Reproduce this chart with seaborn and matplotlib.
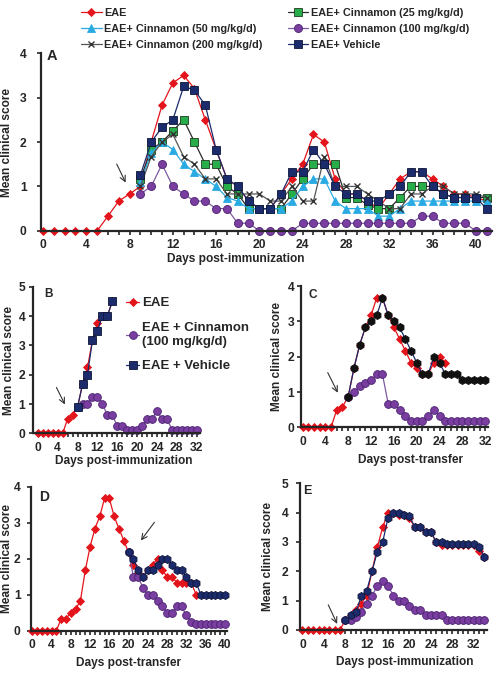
import matplotlib
matplotlib.use('Agg')
import matplotlib.pyplot as plt
import seaborn as sns
from matplotlib.ticker import MultipleLocator

# ---------------- data ----------------
# Panel A: active EAE, cinnamon doses
a_days = list(range(0, 42))
a_eae = [0, 0, 0, 0, 0, 0, 0.33, 0.67, 0.83, 1.0, 2.0, 2.83, 3.33, 3.5, 3.2, 2.5,
         1.83, 1.17, 1.0, 0.67, 0.5, 0.5, 0.83, 1.17, 1.5, 2.17, 2.0, 1.17, 0.83,
         0.83, 0.67, 0.5, 0.83, 1.17, 1.33, 1.33, 1.17, 1.0, 0.83, 0.83, 0.75, 0.67]
a_trt_days = list(range(9, 42))
a_c25 = [1.17, 1.83, 2.0, 2.25, 2.5, 2.0, 1.5, 1.5, 1.0, 0.83,
         0.5, 0.5, 0.5, 0.5, 0.83, 1.17, 1.5, 1.5, 1.5, 0.75,
         0.75, 0.58, 0.5, 0.5, 0.75, 1.0, 1.0, 1.0, 0.83, 0.75,
         0.75, 0.75, 0.75]
a_c50 = [1.1, 1.75, 2.0, 1.83, 1.5, 1.33, 1.17, 1.0, 0.75, 0.67,
         0.5, 0.5, 0.5, 0.5, 0.67, 1.0, 1.17, 1.17, 0.67, 0.5,
         0.5, 0.5, 0.33, 0.33, 0.5, 0.67, 0.67, 0.67, 0.67, 0.67,
         0.67, 0.67, 0.67]
a_c100 = [0.83, 1.0, 1.5, 1.0, 0.83, 0.67, 0.67, 0.5, 0.5, 0.17,
          0.17, 0, 0, 0, 0, 0.17, 0.17, 0.17, 0.17, 0.17,
          0.17, 0.17, 0.17, 0.17, 0.17, 0.17, 0.33, 0.33, 0.17, 0.17,
          0.17, 0, 0]
a_c200 = [1.0, 1.67, 2.0, 2.17, 1.67, 1.5, 1.17, 1.17, 0.83, 0.83,
          0.83, 0.83, 0.67, 0.67, 1.0, 0.67, 0.67, 1.67, 1.0, 1.0,
          1.0, 0.83, 0.67, 0.5, 0.5, 0.83, 0.83, 1.0, 1.0, 0.83,
          0.83, 0.83, 0.75]
a_veh = [1.25, 2.0, 2.33, 2.5, 3.25, 3.17, 2.83, 1.83, 1.17, 1.0,
         0.67, 0.5, 0.5, 0.83, 1.33, 1.33, 1.83, 1.5, 1.0, 0.83,
         0.83, 0.67, 0.67, 0.83, 1.0, 1.33, 1.33, 1.0, 0.83, 0.75,
         0.75, 0.75, 0.5]

# Panel B
b_eae_days = list(range(0, 16))
b_eae = [0, 0, 0, 0, 0, 0, 0.5, 0.63, 0.9, 1.67, 2.25, 3.17, 3.75, 4.0, 4.0, 4.5]
b_veh_days = list(range(8, 16))
b_veh = [0.9, 1.67, 2.0, 3.17, 3.5, 4.0, 4.0, 4.5]
b_cin_days = list(range(8, 33))
b_cin = [0.9, 1.0, 1.0, 1.25, 1.25, 1.0, 0.63, 0.63, 0.25, 0.25,
         0.13, 0.13, 0.13, 0.25, 0.5, 0.5, 0.75, 0.5, 0.5, 0.13,
         0.13, 0.13, 0.13, 0.13, 0.13]

# Panel C
c_eae_days = list(range(0, 26))
c_eae = [0, 0, 0, 0, 0, 0, 0.5, 0.58, 0.87, 1.67, 2.33, 2.83, 3.17, 3.67, 3.67,
         3.17, 2.83, 2.5, 2.17, 1.83, 1.67, 1.5, 1.5, 1.83, 2.0, 1.83]
c_trt_days = list(range(8, 33))
c_veh = [0.87, 1.67, 2.33, 2.83, 3.0, 3.17, 3.67, 3.17, 3.0, 2.83,
         2.5, 2.17, 1.83, 1.5, 1.5, 2.0, 1.83, 1.5, 1.5, 1.5,
         1.33, 1.33, 1.33, 1.33, 1.33]
c_cin = [0.87, 1.0, 1.17, 1.25, 1.33, 1.5, 1.5, 0.67, 0.67, 0.5,
         0.33, 0.17, 0.17, 0.17, 0.33, 0.5, 0.33, 0.17, 0.17, 0.17,
         0.17, 0.17, 0.17, 0.17, 0.17]

# Panel D
d_eae_days = list(range(0, 35))
d_eae = [0, 0, 0, 0, 0, 0, 0.33, 0.33, 0.5, 0.6, 0.83, 1.67, 2.33, 2.83, 3.17, 3.67,
         3.67, 3.17, 2.83, 2.5, 2.17, 1.83, 1.6, 1.5, 1.67, 1.83,
         2.0, 1.67, 1.5, 1.5, 1.33, 1.33, 1.33, 1.33, 1.0]
d_trt_days = list(range(20, 41))
d_veh = [2.17, 2.0, 1.67, 1.5, 1.67, 1.67, 1.83, 2.0, 2.0, 1.83,
         1.67, 1.67, 1.5, 1.33, 1.33, 1.0, 1.0, 1.0, 1.0, 1.0, 1.0]
d_cin = [2.17, 1.5, 1.5, 1.17, 1.0, 1.0, 0.83, 0.67, 0.5, 0.5,
         0.67, 0.67, 0.42, 0.25, 0.17, 0.17, 0.17, 0.17, 0.17, 0.17, 0.17]

# Panel E
e_eae_days = list(range(0, 35))
e_eae = [0, 0, 0, 0, 0, 0, 0, 0,
         0.33, 0.5, 0.67, 0.9, 1.17, 2.0, 2.83, 3.5, 4.0, 4.0,
         3.9, 3.9, 3.8, 3.5, 3.5, 3.33, 3.33, 3.0, 2.9, 2.9,
         2.9, 2.9, 2.9, 2.9, 2.9, 2.7, 2.5]
e_trt_days = list(range(8, 35))
e_veh = [0.33, 0.5, 0.6, 1.17, 1.33, 2.0, 2.67, 3.0, 3.83, 4.0,
         4.0, 3.92, 3.88, 3.5, 3.5, 3.33, 3.33, 3.0, 3.0, 2.92,
         2.92, 2.92, 2.92, 2.92, 2.92, 2.83, 2.5]
e_cin = [0.33, 0.33, 0.45, 0.62, 0.9, 1.17, 1.5, 1.67, 1.5, 1.17,
         1.0, 1.0, 0.83, 0.67, 0.67, 0.5, 0.5, 0.5, 0.5,
         0.33, 0.33, 0.33, 0.33, 0.33, 0.33, 0.33, 0.33]

# ---------------- style ----------------
RED = '#e3141b'
NAVY = '#1b2b6c'
GREEN = '#27ae4a'
CYAN = '#2aaae2'
PURPLE = '#7a3ea0'
PURPLE_EDGE = '#4a2270'
GREY = '#555555'

sns.set_style('ticks')
plt.rcParams['font.family'] = ['Liberation Sans', 'DejaVu Sans']
plt.rcParams['font.weight'] = 'bold'
plt.rcParams['axes.labelweight'] = 'bold'


def draw(ax, x, y, color, marker, ms, face=None, edge=None, lw=0.9, mew=0.6, label=None):
    sns.lineplot(x=x, y=y, ax=ax, color=color, marker=marker, markersize=ms,
                 markerfacecolor=face if face else color,
                 markeredgecolor=edge if edge else color,
                 markeredgewidth=mew, linewidth=lw, label=label,
                 legend=False, clip_on=False)


def style_axis(ax, xlim, ylim, ymax_tick, ypad, xlabel, xlab_pos, ylab_x, letter, letter_pos, letter_fs):
    ax.set_xlim(*xlim)
    ax.set_ylim(*ylim)
    ax.xaxis.set_major_locator(MultipleLocator(4))
    ax.xaxis.set_minor_locator(MultipleLocator(1))
    ax.set_yticks(range(0, ymax_tick + 1))
    ax.set_xticks([t for t in range(0, int(xlim[1]) + 1, 4)])
    for s in ['top', 'right']:
        ax.spines[s].set_visible(False)
    for s in ['left', 'bottom']:
        ax.spines[s].set_linewidth(1.6)
    ax.tick_params(axis='x', which='both', direction='out', length=3.2, width=1.2, labelsize=8.7, pad=3)
    ax.tick_params(axis='y', which='major', direction='out', length=3.2, width=1.2, labelsize=8.7, pad=ypad)
    for lab in ax.get_xticklabels() + ax.get_yticklabels():
        lab.set_fontweight('bold')
    ax.set_xlabel(xlabel, fontsize=8.6, fontweight='bold')
    ax.set_ylabel('Mean clinical score', fontsize=8.6, fontweight='bold')
    ax.xaxis.set_label_coords(*xlab_pos)
    ax.yaxis.set_label_coords(ylab_x, 0.5)
    ax.text(letter_pos[0], letter_pos[1], letter, transform=ax.transAxes,
            fontsize=letter_fs, fontweight='bold', ha='center', va='center')


def arrow(ax, start, end):
    ax.annotate('', xy=end, xytext=start,
                arrowprops=dict(arrowstyle='->', color='#333333', lw=0.8))


fig = plt.figure(figsize=(4.98, 6.73), dpi=100)

# ---------------- Panel A ----------------
axA = fig.add_axes([0.082, 0.657, 0.906, 0.264])
draw(axA, a_days, a_eae, RED, 'D', 4.4, label='EAE')
draw(axA, a_trt_days, a_c25, '#2a2a2a', 's', 5.4, face=GREEN, edge='#1d3a1d',
     label='EAE+ Cinnamon (25 mg/kg/d)')
draw(axA, a_trt_days, a_c50, CYAN, '^', 5.7, label='EAE+ Cinnamon (50 mg/kg/d)')
draw(axA, a_trt_days, a_c200, GREY, 'x', 5.0, edge='#333333', mew=1.0,
     label='EAE+ Cinnamon (200 mg/kg/d)')
draw(axA, a_trt_days, a_c100, '#7e5aa0', 'o', 5.8, face=PURPLE, edge=PURPLE_EDGE,
     label='EAE+ Cinnamon (100 mg/kg/d)')
draw(axA, a_trt_days, a_veh, NAVY, 's', 5.6, face=NAVY, edge='#0e163a',
     label='EAE+ Vehicle')
style_axis(axA, (-0.2, 41.5), (0, 4), 4, 7, 'Days post-immunization',
           (0.433, -0.125), -0.062, 'A', (0.024, 0.985), 10.5)
arrow(axA, (6.7, 1.56), (7.75, 1.03))

h, l = axA.get_legend_handles_labels()
order = ['EAE', 'EAE+ Cinnamon (50 mg/kg/d)', 'EAE+ Cinnamon (200 mg/kg/d)',
         'EAE+ Cinnamon (25 mg/kg/d)', 'EAE+ Cinnamon (100 mg/kg/d)', 'EAE+ Vehicle']
hd = dict(zip(l, h))
fig.legend([hd[k] for k in order], order, loc='upper left', bbox_to_anchor=(0.163, 0.988),
           ncol=2, frameon=False, fontsize=7.8, handlelength=1.9, handletextpad=0.25,
           columnspacing=2.3, labelspacing=0.55, borderpad=0, borderaxespad=0)

# ---------------- Panel B ----------------
axB = fig.add_axes([0.067, 0.356, 0.335, 0.218])
draw(axB, b_eae_days, b_eae, RED, 'D', 4.2, label='EAE')
draw(axB, b_cin_days, b_cin, '#7e5aa0', 'o', 5.6, face=PURPLE, edge=PURPLE_EDGE,
     label='EAE + Cinnamon\n(100 mg/kg/d)')
draw(axB, b_veh_days, b_veh, NAVY, 's', 5.4, face=NAVY, edge='#0e163a', label='EAE + Vehicle')
style_axis(axB, (-0.9, 32.7), (0, 5), 5, 2.5, 'Days post-immunization',
           (0.54, -0.15), -0.11, 'B', (0.09, 0.947), 8.5)
arrow(axB, (3.5, 1.65), (5.7, 0.9))
hb, lb = axB.get_legend_handles_labels()
axB.legend(hb, lb, loc='upper left', bbox_to_anchor=(0.555, 0.93), frameon=False,
           fontsize=9.5, handlelength=1.0, handletextpad=0.2, labelspacing=0.95,
           borderpad=0, borderaxespad=0)

# ---------------- Panel C ----------------
axC = fig.add_axes([0.604, 0.365, 0.375, 0.210])
draw(axC, c_eae_days, c_eae, RED, 'D', 4.4)
draw(axC, c_trt_days, c_cin, '#7e5aa0', 'o', 5.6, face=PURPLE, edge=PURPLE_EDGE)
draw(axC, c_trt_days, c_veh, NAVY, 'h', 5.8, face='#111111', edge='#111111')
style_axis(axC, (-0.3, 32.4), (0, 4), 4, 1.5, 'Days post-transfer',
           (0.588, -0.185), -0.097, 'C', (0.064, 0.938), 8.5)
arrow(axC, (4.2, 1.62), (6.4, 0.91))

# ---------------- Panel D ----------------
axD = fig.add_axes([0.0616, 0.063, 0.394, 0.214])
draw(axD, d_eae_days, d_eae, RED, 'D', 4.4)
draw(axD, d_trt_days, d_cin, '#7e5aa0', 'o', 5.6, face=PURPLE, edge=PURPLE_EDGE)
draw(axD, d_trt_days, d_veh, NAVY, 'h', 5.8, face=NAVY, edge='#0e163a')
style_axis(axD, (-0.33, 40.4), (0, 4), 4, 4, 'Days post-transfer',
           (0.5, -0.18), -0.09, 'D', (0.068, 0.928), 10)
arrow(axD, (25.7, 3.07), (22.2, 2.44))

# ---------------- Panel E ----------------
axE = fig.add_axes([0.602, 0.064, 0.375, 0.218])
draw(axE, e_eae_days, e_eae, RED, 'D', 4.4)
draw(axE, e_trt_days, e_cin, '#7e5aa0', 'o', 5.6, face=PURPLE, edge=PURPLE_EDGE)
draw(axE, e_trt_days, e_veh, NAVY, 'h', 5.8, face=NAVY, edge='#0e163a')
style_axis(axE, (-0.5, 34.4), (0, 5), 5, 5, 'Days post-immunization',
           (0.56, -0.18), -0.139, 'E', (0.04, 0.948), 9)
arrow(axE, (4.6, 0.94), (6.7, 0.12))

fig.savefig('out.png', dpi=100)
